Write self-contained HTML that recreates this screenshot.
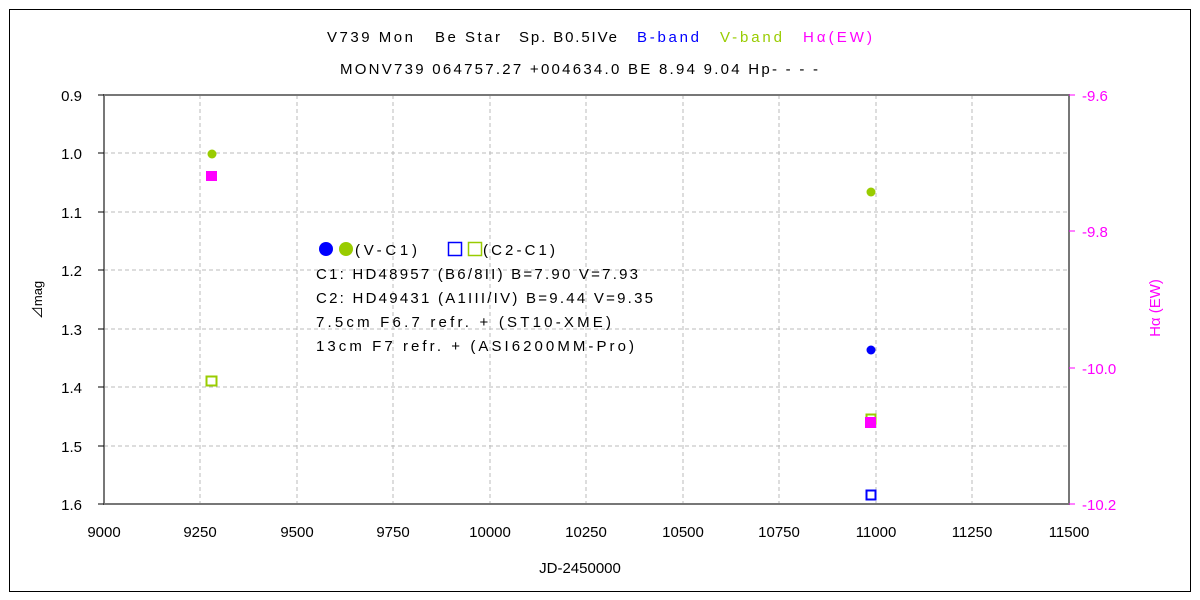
<!DOCTYPE html><html><head><meta charset="utf-8"><style>body{margin:0;background:#fff}svg{display:block}text{font-family:"Liberation Sans","Noto Sans CJK JP",sans-serif;font-size:15px}</style></head><body>
<svg width="1200" height="600" xmlns="http://www.w3.org/2000/svg">
<rect x="9.5" y="9.5" width="1181" height="582" fill="none" stroke="#000"/>
<g stroke="#bbb" stroke-dasharray="4,3">
<line x1="200" y1="95" x2="200" y2="504"/><line x1="297" y1="95" x2="297" y2="504"/><line x1="393" y1="95" x2="393" y2="504"/><line x1="490" y1="95" x2="490" y2="504"/><line x1="586" y1="95" x2="586" y2="504"/><line x1="683" y1="95" x2="683" y2="504"/><line x1="779" y1="95" x2="779" y2="504"/><line x1="876" y1="95" x2="876" y2="504"/><line x1="972" y1="95" x2="972" y2="504"/>
<line x1="104" y1="153" x2="1069" y2="153"/><line x1="104" y1="212" x2="1069" y2="212"/><line x1="104" y1="270" x2="1069" y2="270"/><line x1="104" y1="329" x2="1069" y2="329"/><line x1="104" y1="387" x2="1069" y2="387"/><line x1="104" y1="446" x2="1069" y2="446"/>
</g>
<rect x="104" y="95" width="965" height="409" fill="none" stroke="#777" stroke-width="2"/>
<g stroke="#000"><line x1="98" y1="95" x2="104" y2="95"/><line x1="98" y1="153" x2="104" y2="153"/><line x1="98" y1="212" x2="104" y2="212"/><line x1="98" y1="270" x2="104" y2="270"/><line x1="98" y1="329" x2="104" y2="329"/><line x1="98" y1="387" x2="104" y2="387"/><line x1="98" y1="446" x2="104" y2="446"/><line x1="98" y1="504" x2="104" y2="504"/></g>
<g stroke="#f0f"><line x1="1069" y1="95" x2="1075" y2="95"/><line x1="1069" y1="231" x2="1075" y2="231"/><line x1="1069" y1="368" x2="1075" y2="368"/><line x1="1069" y1="504" x2="1075" y2="504"/></g>
<g text-anchor="end" fill="#000"><text x="82" y="101">0.9</text><text x="82" y="159">1.0</text><text x="82" y="218">1.1</text><text x="82" y="276">1.2</text><text x="82" y="335">1.3</text><text x="82" y="393">1.4</text><text x="82" y="452">1.5</text><text x="82" y="510">1.6</text></g>
<g fill="#f0f"><text x="1082" y="101">-9.6</text><text x="1082" y="237">-9.8</text><text x="1082" y="374">-10.0</text><text x="1082" y="510">-10.2</text></g>
<g text-anchor="middle"><text x="104" y="537">9000</text><text x="200" y="537">9250</text><text x="297" y="537">9500</text><text x="393" y="537">9750</text><text x="490" y="537">10000</text><text x="586" y="537">10250</text><text x="683" y="537">10500</text><text x="779" y="537">10750</text><text x="876" y="537">11000</text><text x="972" y="537">11250</text><text x="1069" y="537">11500</text>
<text x="580" y="573">JD-2450000</text></g>
<text x="0" y="0" transform="translate(42,300) rotate(-90)" text-anchor="middle" style="font-size:13px">⊿mag</text>
<text x="0" y="0" transform="translate(1160,308) rotate(-90)" text-anchor="middle" fill="#f0f">Hα (EW)</text>
<text x="327" y="42" textLength="86" lengthAdjust="spacing">V739 Mon</text>
<text x="435" y="42" textLength="65" lengthAdjust="spacing">Be Star</text>
<text x="519" y="42" textLength="98" lengthAdjust="spacing">Sp. B0.5IVe</text>
<text x="637" y="42" fill="#00f" textLength="62" lengthAdjust="spacing">B-band</text>
<text x="720" y="42" fill="#9c0" textLength="62" lengthAdjust="spacing">V-band</text>
<text x="803" y="42" fill="#f0f" textLength="69" lengthAdjust="spacing">Hα(EW)</text>
<text x="340" y="74" textLength="478" lengthAdjust="spacing">MONV739 064757.27 +004634.0 BE 8.94 9.04 Hp- - - -</text>
<circle cx="326" cy="249" r="7" fill="#00f"/><circle cx="346" cy="249" r="7" fill="#9c0"/>
<text x="355" y="255" textLength="62" lengthAdjust="spacing">(V-C1)</text>
<rect x="448.5" y="242.5" width="13" height="13" fill="none" stroke="#00f" stroke-width="1.5"/><rect x="468.5" y="242.5" width="13" height="13" fill="none" stroke="#9c0" stroke-width="1.5"/>
<text x="483" y="255" textLength="72" lengthAdjust="spacing">(C2-C1)</text>
<text x="316" y="279" textLength="322" lengthAdjust="spacing">C1: HD48957 (B6/8II)  B=7.90  V=7.93</text>
<text x="316" y="303" textLength="337" lengthAdjust="spacing">C2: HD49431 (A1III/IV)  B=9.44  V=9.35</text>
<text x="316" y="327" textLength="295" lengthAdjust="spacing">7.5cm  F6.7   refr.  +  (ST10-XME)</text>
<text x="316" y="351" textLength="318" lengthAdjust="spacing">13cm  F7  refr. +  (ASI6200MM-Pro)</text>
<circle cx="212" cy="154" r="4.5" fill="#9c0"/>
<rect x="206" y="171" width="11" height="10" fill="#f0f"/>
<rect x="206.5" y="376.5" width="10" height="9" fill="none" stroke="#9c0" stroke-width="2"/>
<circle cx="871" cy="192" r="4.5" fill="#9c0"/>
<circle cx="871" cy="350" r="4.5" fill="#00f"/>
<rect x="866.5" y="414.5" width="9" height="9" fill="none" stroke="#9c0" stroke-width="2"/>
<rect x="865" y="417" width="11" height="11" fill="#f0f"/>
<rect x="866.5" y="490.5" width="9" height="9" fill="none" stroke="#00f" stroke-width="2"/>
</svg></body></html>
